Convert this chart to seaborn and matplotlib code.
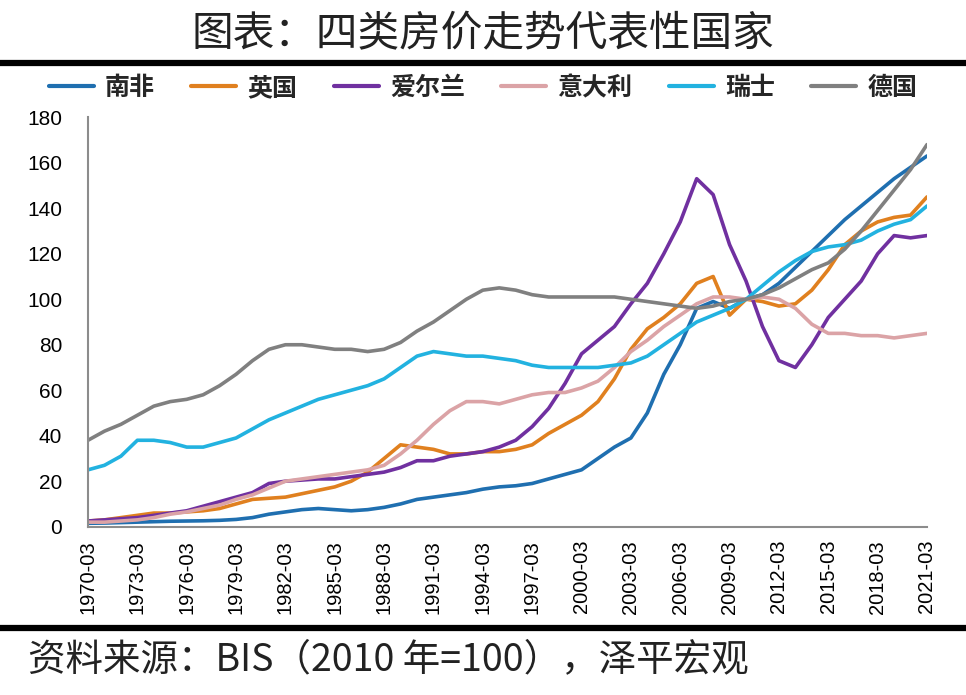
"""
Recreate: 图表：四类房价走势代表性国家 (BIS house price index, 2010=100).
"""

import pandas as pd
import numpy as np
import matplotlib
matplotlib.use('Agg')
import matplotlib.pyplot as plt
from matplotlib.lines import Line2D
import seaborn as sns

# ---- data (annual, March of each year) ----
years = list(range(1970, 2022))

south_africa = [1.5, 1.6, 1.8, 2.0, 2.2, 2.4, 2.5, 2.6, 2.8, 3.2,
                4.0, 5.5, 6.5, 7.5, 8.0, 7.5, 7.0, 7.5, 8.5, 10.0,
                12.0, 13.0, 14.0, 15.0, 16.5, 17.5, 18.0, 19.0, 21.0, 23.0,
                25.0, 30.0, 35.0, 39.0, 50.0, 67.0, 80.0, 96.0, 99.0, 96.0,
                100, 102, 107, 114, 121, 128, 135, 141, 147, 153, 158, 163]

uk = [2.5, 3.0, 4.0, 5.0, 6.0, 6.0, 6.5, 7.0, 8.0, 10.0,
      12.0, 12.5, 13.0, 14.5, 16.0, 17.5, 20.0, 24.0, 30.0, 36.0,
      35.0, 34.0, 32.0, 32.0, 33.0, 33.0, 34.0, 36.0, 41.0, 45.0,
      49.0, 55.0, 65.0, 78.0, 87.0, 92.0, 98.0, 107.0, 110.0, 93.0,
      100, 99, 97, 98, 104, 113, 124, 130, 134, 136, 137, 145]

ireland = [2.5, 3.0, 3.5, 4.0, 5.0, 6.0, 7.0, 9.0, 11.0, 13.0,
           15, 19, 20, 20.5, 21, 21, 22, 23, 24, 26,
           29, 29, 31, 32, 33, 35, 38, 44, 52, 63,
           76, 82, 88, 98, 107, 120, 134, 153, 146, 124,
           108, 88, 73, 70, 80, 92, 100, 108, 120, 128, 127, 128]

italy = [2.0, 2.0, 2.5, 3.0, 4.0, 5.5, 6.5, 8.0, 9.5, 12.0,
         14, 17, 20, 21, 22, 23, 24, 25, 27, 32,
         38, 45, 51, 55, 55, 54, 56, 58, 59, 59,
         61, 64, 70, 77, 82, 88, 93, 98, 101, 101,
         100, 101, 100, 96, 89, 85, 85, 84, 84, 83, 84, 85]

switzerland = [25, 27, 31, 38, 38, 37, 35, 35, 37, 39,
               43, 47, 50, 53, 56, 58, 60, 62, 65, 70,
               75, 77, 76, 75, 75, 74, 73, 71, 70, 70,
               70, 70, 71, 72, 75, 80, 85, 90, 93, 96,
               100, 106, 112, 117, 121, 123, 124, 126, 130, 133, 135, 141]

germany = [38, 42, 45, 49, 53, 55, 56, 58, 62, 67,
           73, 78, 80, 80, 79, 78, 78, 77, 78, 81,
           86, 90, 95, 100, 104, 105, 104, 102, 101, 101,
           101, 101, 101, 100, 99, 98, 97, 96, 97, 99,
           100, 102, 105, 109, 113, 116, 122, 130, 139, 148, 157, 168]

countries = ['南非', '英国', '爱尔兰', '意大利', '瑞士', '德国']
colors = ['#1f6fb0', '#e0801f', '#7030a0', '#dba3a6', '#22b2e0', '#808080']
tick_labels = [f'{y}-03' for y in years[::3]]

# ---- long-form table for seaborn ----
series = [south_africa, uk, ireland, italy, switzerland, germany]
df = pd.concat(
    [pd.DataFrame({'idx': np.arange(len(years)), 'value': s, 'country': c})
     for c, s in zip(countries, series)],
    ignore_index=True
)

sns.set_style('white')
plt.rcParams['font.family'] = ['Noto Sans CJK SC', 'DejaVu Sans']

fig = plt.figure(figsize=(9.66, 6.95), dpi=100)
ax = fig.add_axes([88 / 966, (695 - 526.7) / 695, (927 - 88) / 966, (526.7 - 117.3) / 695])

sns.lineplot(data=df, x='idx', y='value', hue='country', hue_order=countries,
             palette=colors, linewidth=2.6, ax=ax, legend=False)

ax.set_xlim(0, len(years) - 1)
ax.set_ylim(0, 180)
ax.set_xticks(np.arange(0, len(years), 3))
ax.set_xticklabels(tick_labels, rotation=90, fontsize=14.5, family='Liberation Sans')
ax.set_yticks(np.arange(0, 181, 20))
ax.set_yticklabels([str(v) for v in range(0, 181, 20)], fontsize=15, family='Liberation Sans')
ax.set_xlabel('')
ax.set_ylabel('')

for side in ['top', 'right']:
    ax.spines[side].set_visible(False)
for side in ['left', 'bottom']:
    ax.spines[side].set_color('#8c8c8c')
    ax.spines[side].set_linewidth(1.5)
ax.tick_params(axis='both', direction='out', length=4.5, width=1.3, color='#8c8c8c',
               labelcolor='black')
ax.tick_params(axis='y', pad=14)
ax.tick_params(axis='x', pad=5)

# legend above the plot
handles = [Line2D([0], [0], color=c, lw=3) for c in colors]
fig.legend(handles, countries, loc='center', bbox_to_anchor=(0.5, (695 - 88) / 695),
           ncol=6, frameon=False, handlelength=1.8, handletextpad=0.45,
           columnspacing=1.45, prop={'family': 'Noto Sans CJK SC', 'weight': 'bold', 'size': 18})

# title and source
fig.text(0.5, (695 - 35) / 695, '图表：四类房价走势代表性国家', ha='center', va='center',
         fontsize=30, color='#222222')
fig.text(28 / 966, (695 - 660) / 695, '资料来源：BIS（2010 年=100），泽平宏观', ha='left',
         va='center', fontsize=27, color='#222222')

# thick separator rules
fig.add_artist(Line2D([0, 1], [(695 - 63) / 695] * 2, color='black', lw=4.5,
                      transform=fig.transFigure))
fig.add_artist(Line2D([0, 1], [(695 - 628) / 695] * 2, color='black', lw=4.5,
                      transform=fig.transFigure))

plt.savefig('out.png', dpi=100)
plt.close()
